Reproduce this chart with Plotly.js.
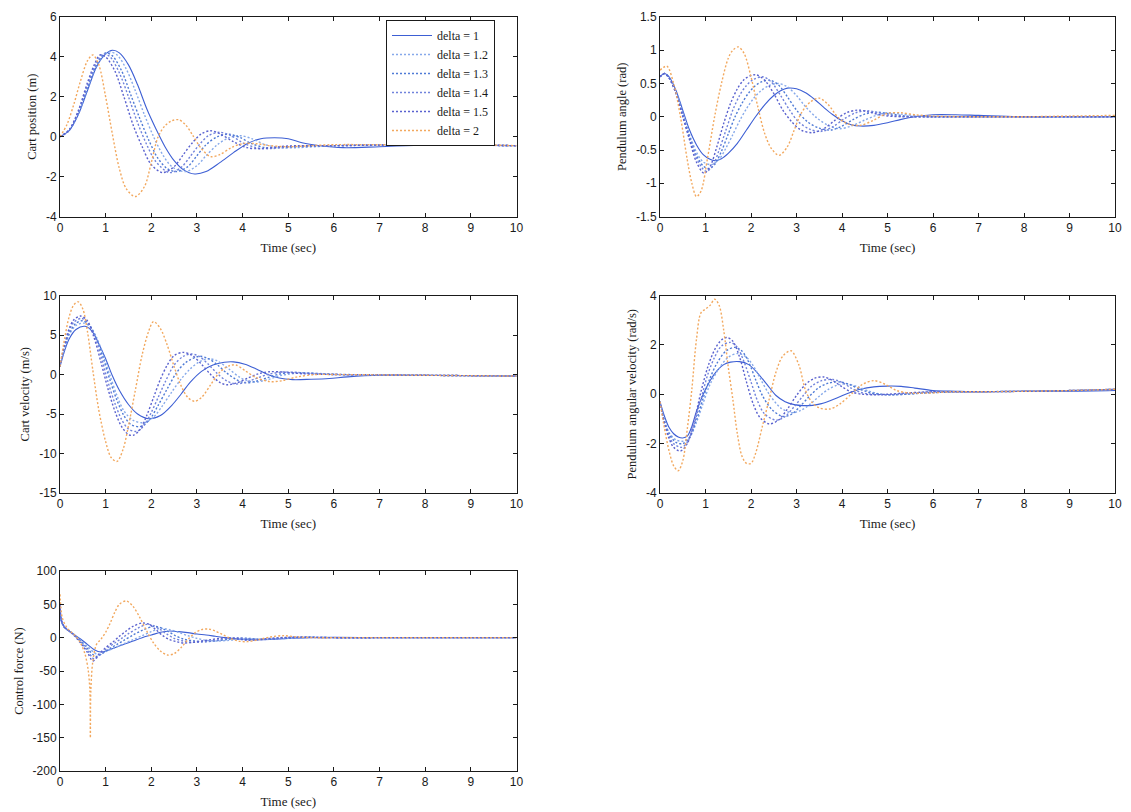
<!DOCTYPE html>
<html><head><meta charset="utf-8">
<script src="https://cdn.plot.ly/plotly-3.0.1.min.js"></script>
<style>html,body{margin:0;padding:0;background:#fff}#chart{width:1131px;height:812px}</style>
</head><body><div id="chart"></div>
<script>
const seriesNames = ['delta = 1', 'delta = 1.2', 'delta = 1.3', 'delta = 1.4', 'delta = 1.5', 'delta = 2'];

// ---------- Cart position (m) ----------
const posT_1  = [0,0.2,0.4,0.6,0.8,1.0,1.15,1.3,1.5,1.7,1.9,2.1,2.3,2.5,2.7,2.95,3.2,3.5,3.8,4.1,4.4,4.7,5.0,5.3,5.7,6.2,7,8,9,10];
const posY_1  = [0,0.3,1.1,2.3,3.5,4.15,4.33,4.2,3.6,2.6,1.4,0.4,-0.5,-1.2,-1.65,-1.87,-1.75,-1.3,-0.8,-0.35,-0.1,-0.05,-0.1,-0.3,-0.45,-0.55,-0.5,-0.42,-0.42,-0.45];
const posT_12 = [0,0.2,0.4,0.6,0.8,1.0,1.1,1.25,1.45,1.65,1.85,2.05,2.25,2.45,2.75,3.0,3.2,3.45,3.7,3.95,4.2,4.5,4.8,5.2,5.6,6,7,8,9,10];
const posY_12 = [0,0.31,1.15,2.4,3.55,4.15,4.25,4.1,3.4,2.3,1.1,0.0,-0.9,-1.5,-1.75,-1.45,-0.95,-0.4,-0.05,0.05,-0.1,-0.4,-0.55,-0.55,-0.5,-0.45,-0.42,-0.4,-0.42,-0.45];
const posT_13 = [0,0.2,0.4,0.6,0.8,1.0,1.15,1.35,1.55,1.75,1.95,2.15,2.35,2.55,2.8,3.0,3.2,3.45,3.7,3.95,4.2,4.5,4.8,5.2,6,7,8,9,10];
const posY_13 = [0,0.32,1.2,2.45,3.6,4.2,4.05,3.3,2.1,0.9,-0.2,-1.1,-1.6,-1.75,-1.5,-0.95,-0.4,0.0,0.12,-0.05,-0.35,-0.55,-0.55,-0.5,-0.45,-0.42,-0.4,-0.42,-0.45];
const posT_14 = [0,0.2,0.4,0.6,0.8,0.95,1.1,1.3,1.5,1.7,1.9,2.1,2.4,2.65,2.85,3.05,3.25,3.5,3.75,4.0,4.3,4.6,5.0,5.5,6,7,8,9,10];
const posY_14 = [0,0.33,1.25,2.55,3.7,4.15,4.0,3.2,2.0,0.7,-0.4,-1.25,-1.8,-1.55,-1.0,-0.4,0.05,0.22,0.05,-0.3,-0.55,-0.6,-0.5,-0.45,-0.45,-0.42,-0.4,-0.42,-0.45];
const posT_15 = [0,0.2,0.4,0.6,0.75,0.88,1.0,1.2,1.4,1.6,1.8,2.0,2.25,2.5,2.7,2.9,3.1,3.3,3.5,3.8,4.1,4.4,4.8,5.2,6,7,8,9,10];
const posY_15 = [0,0.35,1.3,2.7,3.6,4.1,4.0,3.3,2.0,0.6,-0.5,-1.4,-1.8,-1.5,-0.9,-0.3,0.15,0.3,0.15,-0.25,-0.55,-0.6,-0.5,-0.45,-0.45,-0.42,-0.4,-0.42,-0.45];
const posT_2  = [0,0.15,0.3,0.45,0.6,0.72,0.85,1.0,1.15,1.3,1.45,1.65,1.85,2.0,2.15,2.3,2.45,2.6,2.75,2.9,3.1,3.3,3.5,3.75,4.0,4.3,4.6,5.0,5.5,6,7,8,9,10];
const posY_2  = [0,0.6,1.6,2.8,3.8,4.1,3.6,2.0,0.1,-1.6,-2.6,-3.0,-2.5,-1.3,0.0,0.55,0.8,0.85,0.6,0.1,-0.6,-1.0,-0.9,-0.55,-0.35,-0.35,-0.45,-0.5,-0.45,-0.4,-0.4,-0.4,-0.4,-0.45];

// ---------- Pendulum angle (rad) ----------
const angT_1  = [0,0.1,0.2,0.35,0.5,0.65,0.8,0.95,1.1,1.2,1.35,1.5,1.7,1.9,2.1,2.3,2.5,2.65,2.8,3.0,3.2,3.4,3.6,3.8,4.0,4.2,4.4,4.7,5.0,5.3,5.6,6,6.5,7,8,9,10];
const angY_1  = [0.6,0.65,0.6,0.4,0.1,-0.2,-0.42,-0.57,-0.64,-0.66,-0.63,-0.55,-0.4,-0.2,0.0,0.18,0.32,0.39,0.43,0.42,0.36,0.26,0.14,0.03,-0.06,-0.12,-0.14,-0.13,-0.09,-0.04,0.0,0.03,0.03,0.02,0.0,0.0,0.0];
const angT_12 = [0,0.1,0.2,0.35,0.5,0.65,0.8,0.95,1.13,1.3,1.45,1.6,1.75,1.9,2.05,2.2,2.4,2.6,2.8,3.0,3.2,3.45,3.7,3.95,4.2,4.5,4.75,5.0,5.3,5.7,6,7,8,9,10];
const angY_12 = [0.6,0.65,0.59,0.38,0.06,-0.27,-0.53,-0.68,-0.72,-0.64,-0.47,-0.27,-0.06,0.12,0.27,0.38,0.47,0.5,0.45,0.32,0.15,-0.02,-0.13,-0.18,-0.14,-0.05,0.02,0.06,0.04,0.01,0.0,0.0,0.0,0.0,0.0];
const angT_13 = [0,0.1,0.2,0.35,0.5,0.65,0.8,0.95,1.07,1.2,1.35,1.5,1.65,1.8,1.95,2.1,2.25,2.42,2.6,2.8,3.0,3.25,3.5,3.75,4.0,4.25,4.5,4.75,5.0,5.4,6,7,8,9,10];
const angY_13 = [0.6,0.65,0.59,0.37,0.04,-0.3,-0.58,-0.74,-0.78,-0.72,-0.52,-0.26,0.0,0.2,0.36,0.47,0.53,0.55,0.48,0.3,0.1,-0.08,-0.17,-0.2,-0.14,-0.04,0.04,0.07,0.05,0.01,0.0,0.0,0.0,0.0,0.0];
const angT_14 = [0,0.1,0.2,0.35,0.5,0.65,0.8,0.95,1.02,1.15,1.3,1.45,1.6,1.75,1.9,2.05,2.27,2.45,2.65,2.85,3.05,3.3,3.55,3.8,4.05,4.3,4.55,4.8,5.1,5.5,6,7,8,9,10];
const angY_14 = [0.6,0.65,0.58,0.36,0.02,-0.33,-0.62,-0.79,-0.82,-0.75,-0.5,-0.2,0.1,0.32,0.47,0.56,0.6,0.52,0.32,0.1,-0.08,-0.19,-0.22,-0.15,-0.03,0.06,0.09,0.06,0.02,0.0,0.0,0.0,0.0,0.0,0.0];
const angT_15 = [0,0.1,0.2,0.35,0.5,0.65,0.8,0.97,1.1,1.25,1.4,1.55,1.7,1.85,2.0,2.12,2.3,2.5,2.7,2.9,3.1,3.35,3.6,3.85,4.1,4.35,4.6,4.9,5.3,6,7,8,9,10];
const angY_15 = [0.6,0.65,0.58,0.35,0.0,-0.35,-0.68,-0.85,-0.75,-0.45,-0.1,0.2,0.42,0.56,0.62,0.63,0.55,0.35,0.1,-0.08,-0.2,-0.24,-0.18,-0.05,0.06,0.1,0.07,0.02,0.0,0.0,0.0,0.0,0.0,0.0];
const angT_2  = [0,0.15,0.3,0.45,0.6,0.7,0.8,0.9,1.05,1.2,1.35,1.5,1.6,1.72,1.85,2.0,2.15,2.3,2.45,2.62,2.8,2.95,3.1,3.3,3.5,3.7,3.9,4.1,4.4,4.7,5.0,5.3,5.6,6,7,8,9,10];
const angY_2  = [0.7,0.76,0.5,0.0,-0.65,-1.0,-1.2,-1.12,-0.6,0.0,0.5,0.88,1.0,1.05,0.95,0.6,0.15,-0.25,-0.48,-0.58,-0.45,-0.2,0.05,0.22,0.28,0.18,0.0,-0.1,-0.13,-0.05,0.05,0.06,0.03,0.01,0.0,0.0,0.01,0.02];

// ---------- Cart velocity (m/s) ----------
const velT_1  = [0,0.1,0.2,0.35,0.55,0.7,0.85,1.0,1.15,1.3,1.5,1.7,1.95,2.2,2.45,2.65,2.85,3.1,3.35,3.6,3.8,4.05,4.3,4.55,4.8,5.1,5.5,5.9,6.3,7,8,9,10];
const velY_1  = [1,3,4.5,5.7,6.1,5.5,3.9,2.0,-0.2,-2.0,-3.8,-5.0,-5.6,-5.2,-3.9,-2.5,-1.0,0.4,1.2,1.55,1.6,1.3,0.7,0.0,-0.45,-0.65,-0.6,-0.5,-0.3,-0.1,-0.1,-0.15,-0.2];
const velT_12 = [0,0.1,0.2,0.35,0.52,0.65,0.8,0.95,1.1,1.25,1.4,1.6,1.85,2.05,2.25,2.45,2.65,2.85,3.05,3.25,3.45,3.7,3.95,4.15,4.3,4.55,4.85,5.3,5.8,6.3,7,8,9,10];
const velY_12 = [1,3.2,5.0,6.2,6.5,6.1,4.7,2.4,-0.2,-2.7,-4.6,-5.8,-6.1,-5.4,-3.9,-2.2,-0.6,0.7,1.6,2.0,1.7,0.7,-0.4,-0.85,-0.95,-0.65,-0.1,0.2,0.1,0.0,-0.05,-0.1,-0.15,-0.2];
const velT_13 = [0,0.1,0.2,0.35,0.5,0.65,0.8,0.95,1.1,1.25,1.4,1.55,1.75,1.95,2.15,2.35,2.55,2.75,3.05,3.25,3.45,3.65,3.85,4.05,4.3,4.55,4.8,5.1,5.5,6,7,8,9,10];
const velY_13 = [1,3.4,5.2,6.5,6.8,6.2,4.5,2.0,-0.8,-3.3,-5.2,-6.3,-6.6,-5.8,-3.9,-1.8,0.2,1.5,2.3,2.0,1.2,0.2,-0.6,-1.05,-0.85,-0.4,0.05,0.25,0.15,0.0,-0.05,-0.1,-0.15,-0.2];
const velT_14 = [0,0.1,0.2,0.3,0.47,0.6,0.75,0.9,1.05,1.2,1.35,1.5,1.68,1.85,2.0,2.15,2.3,2.5,2.7,2.87,3.05,3.25,3.45,3.65,3.85,4.05,4.3,4.55,4.85,5.2,5.6,6,7,8,9,10];
const velY_14 = [1,3.6,5.5,6.6,7.1,6.6,5.0,2.3,-0.9,-3.6,-5.7,-6.9,-7.2,-6.4,-4.8,-2.9,-1.0,1.2,2.3,2.6,2.3,1.3,0.1,-0.8,-1.2,-1.0,-0.5,0.0,0.3,0.25,0.1,0.0,-0.05,-0.1,-0.15,-0.2];
const velT_15 = [0,0.1,0.2,0.3,0.45,0.6,0.75,0.9,1.05,1.2,1.35,1.5,1.6,1.75,1.9,2.05,2.2,2.35,2.5,2.7,2.9,3.1,3.3,3.5,3.65,3.85,4.1,4.35,4.6,4.9,5.3,6,7,8,9,10];
const velY_15 = [1,3.8,5.8,6.9,7.4,6.8,4.6,1.5,-1.8,-4.6,-6.6,-7.6,-7.7,-7.0,-5.2,-2.9,-0.6,1.2,2.4,2.8,2.4,1.3,0.0,-1.0,-1.3,-1.1,-0.5,0.1,0.35,0.3,0.1,0.0,-0.05,-0.1,-0.15,-0.2];
const velT_2  = [0,0.1,0.2,0.3,0.4,0.5,0.6,0.72,0.85,1.0,1.12,1.25,1.38,1.5,1.65,1.8,1.95,2.05,2.2,2.35,2.5,2.65,2.8,2.95,3.1,3.3,3.5,3.7,3.85,4.05,4.3,4.6,4.85,5.2,5.6,6,7,8,9,10];
const velY_2  = [1,4.5,7.3,8.8,9.2,8.3,5.5,0.5,-4.5,-8.5,-10.5,-11.0,-9.5,-6.5,-2.0,2.5,5.6,6.7,5.8,3.7,1.0,-1.4,-2.9,-3.4,-2.9,-1.3,0.3,1.1,1.2,0.5,-0.4,-0.9,-0.8,-0.3,0.0,0.0,-0.05,-0.1,-0.15,-0.2];

// ---------- Pendulum angular velocity (rad/s) ----------
const angvT_1  = [0,0.1,0.2,0.3,0.4,0.5,0.6,0.7,0.8,0.95,1.1,1.25,1.4,1.55,1.75,1.95,2.15,2.35,2.55,2.75,2.95,3.15,3.35,3.55,3.75,3.95,4.15,4.4,4.7,5.0,5.3,5.6,6,6.5,7,8,9,10];
const angvY_1  = [-0.3,-0.9,-1.35,-1.6,-1.73,-1.77,-1.7,-1.3,-0.7,0.0,0.55,0.95,1.2,1.3,1.32,1.2,0.85,0.4,-0.05,-0.3,-0.42,-0.46,-0.45,-0.38,-0.25,-0.1,0.05,0.2,0.3,0.33,0.32,0.25,0.15,0.12,0.1,0.12,0.12,0.15];
const angvT_12 = [0,0.1,0.2,0.35,0.52,0.65,0.8,0.95,1.1,1.3,1.5,1.72,1.9,2.05,2.2,2.4,2.65,2.9,3.1,3.3,3.5,3.7,3.9,4.1,4.35,4.6,4.85,5.1,5.4,5.8,6.2,7,8,9,10];
const angvY_12 = [-0.3,-1.05,-1.55,-1.85,-1.9,-1.75,-1.15,-0.35,0.4,1.05,1.5,1.65,1.5,1.15,0.65,0.0,-0.55,-0.75,-0.65,-0.4,-0.08,0.2,0.37,0.42,0.3,0.12,0.0,-0.02,0.0,0.05,0.08,0.1,0.12,0.15,0.2];
const angvT_13 = [0,0.1,0.2,0.35,0.5,0.65,0.8,0.95,1.1,1.25,1.45,1.65,1.8,1.95,2.1,2.25,2.45,2.7,2.9,3.1,3.3,3.5,3.7,3.95,4.15,4.4,4.6,4.85,5.1,5.4,5.8,6.2,7,8,9,10];
const angvY_13 = [-0.3,-1.1,-1.6,-1.95,-2.0,-1.75,-1.05,-0.15,0.65,1.25,1.75,1.9,1.75,1.3,0.6,-0.05,-0.6,-0.9,-0.8,-0.45,-0.05,0.28,0.45,0.5,0.4,0.2,0.07,0.0,-0.02,0.0,0.05,0.08,0.1,0.12,0.15,0.2];
const angvT_14 = [0,0.1,0.2,0.3,0.47,0.6,0.75,0.9,1.05,1.2,1.35,1.55,1.7,1.85,2.0,2.15,2.3,2.55,2.75,2.95,3.15,3.35,3.55,3.8,4.0,4.2,4.4,4.65,4.9,5.2,5.6,6,7,8,9,10];
const angvY_14 = [-0.3,-1.15,-1.7,-2.0,-2.15,-1.95,-1.2,-0.2,0.8,1.5,1.95,2.1,1.9,1.3,0.5,-0.3,-0.8,-1.05,-0.9,-0.5,-0.05,0.35,0.55,0.6,0.48,0.25,0.08,0.0,-0.02,0.0,0.05,0.1,0.1,0.12,0.15,0.2];
const angvT_15 = [0,0.1,0.2,0.3,0.45,0.6,0.75,0.9,1.05,1.2,1.35,1.47,1.6,1.75,1.9,2.05,2.2,2.4,2.6,2.8,3.0,3.2,3.4,3.6,3.8,4.0,4.2,4.45,4.7,5.0,5.4,6,7,8,9,10];
const angvY_15 = [-0.3,-1.2,-1.8,-2.15,-2.3,-2.0,-1.1,0.1,1.1,1.8,2.2,2.3,2.15,1.5,0.5,-0.4,-0.95,-1.2,-1.05,-0.6,-0.05,0.4,0.65,0.7,0.55,0.3,0.1,0.0,-0.02,0.0,0.05,0.1,0.1,0.12,0.15,0.2];
const angvT_2  = [0,0.1,0.2,0.3,0.4,0.5,0.6,0.7,0.8,0.9,1.0,1.1,1.2,1.3,1.4,1.5,1.6,1.7,1.8,1.9,2.0,2.1,2.25,2.4,2.55,2.7,2.88,3.05,3.2,3.35,3.5,3.73,3.95,4.2,4.45,4.7,4.95,5.2,5.5,5.9,6.4,7,8,9,10];
const angvY_2  = [-0.3,-1.4,-2.3,-2.9,-3.1,-2.7,-1.4,0.2,2.2,3.3,3.45,3.6,3.85,3.6,2.6,1.1,-0.2,-1.6,-2.5,-2.8,-2.8,-2.4,-1.3,-0.2,0.9,1.55,1.76,1.2,0.15,-0.35,-0.55,-0.6,-0.4,0.0,0.4,0.55,0.4,0.15,0.05,0.05,0.1,0.1,0.12,0.15,0.2];

// ---------- Control force (N) ----------
const frcT_1  = [0,0.03,0.1,0.2,0.3,0.45,0.6,0.75,0.9,1.05,1.2,1.4,1.6,1.8,2.0,2.2,2.4,2.6,2.8,3.0,3.2,3.4,3.6,3.8,4.0,4.3,4.6,5.0,5.5,6,7,8,9,10];
const frcY_1  = [45,25,15,10,5,-2,-10,-18,-21.5,-19,-15,-10,-5,0,4,8,10,9,7.5,5.5,4,2,0,-1.5,-2.5,-3,-2.5,-1,0,0.5,0,0,0,0];
const frcT_12 = [0,0.03,0.1,0.2,0.3,0.45,0.6,0.82,1.0,1.2,1.4,1.6,1.8,2.0,2.2,2.4,2.6,2.8,3.0,3.2,3.45,3.7,3.95,4.2,4.45,4.7,5.0,5.4,6,7,8,9,10];
const frcY_12 = [45,25,15,10,5,-4,-13,-25,-21,-15,-9,-3,3,9,14,12,8,3,-1,-4,-5,-4,-2.5,-2,-2.5,-2,-1,0.5,0,0,0,0,0];
const frcT_13 = [0,0.03,0.1,0.2,0.3,0.45,0.6,0.78,0.92,1.1,1.25,1.4,1.6,1.8,2.05,2.2,2.35,2.5,2.7,2.95,3.2,3.45,3.7,3.9,4.1,4.3,4.5,4.8,5.2,5.6,6,7,8,9,10];
const frcY_13 = [46,25,15,10,5,-5,-16,-28,-24,-16,-10,-4,4,11,17,15,10,4,-2,-5,-6,-4.5,-2.5,-1,-1,-2,-2.5,-1,0.5,0.5,0,0,0,0,0];
const frcT_14 = [0,0.03,0.1,0.2,0.3,0.45,0.6,0.75,0.9,1.05,1.2,1.35,1.5,1.7,1.9,2.05,2.2,2.35,2.5,2.7,2.9,3.1,3.3,3.5,3.7,3.9,4.1,4.3,4.55,4.8,5.2,5.6,6,7,8,9,10];
const frcY_14 = [48,26,15.5,10,4.5,-6,-19,-32,-24,-15,-8,-1,6,14,20,18,12,5,-1,-5,-7,-6.5,-5,-3,-1,0,-1.5,-3,-2.5,-1,0.5,0.5,0,0,0,0,0];
const frcT_15 = [0,0.03,0.1,0.2,0.3,0.45,0.6,0.72,0.85,1.0,1.15,1.3,1.45,1.6,1.8,1.95,2.1,2.25,2.4,2.55,2.7,2.9,3.1,3.3,3.5,3.7,3.9,4.1,4.35,4.6,5.0,5.5,6,7,8,9,10];
const frcY_15 = [50,27,16,10,4,-8,-22,-35,-25,-15,-7,2,10,17,22,20,12,3,-3,-6,-8,-7,-5,-3,-1,0,-2,-4,-3,-1,0.5,0.5,0,0,0,0,0];
const frcT_2  = [0,0.05,0.15,0.25,0.35,0.45,0.55,0.62,0.655,0.665,0.675,0.72,0.8,0.9,1.0,1.1,1.2,1.3,1.45,1.6,1.75,1.9,2.05,2.2,2.35,2.5,2.65,2.8,2.95,3.1,3.25,3.4,3.55,3.7,3.9,4.1,4.35,4.6,4.9,5.2,5.6,6,7,8,9,10];
const frcY_2  = [65,30,15,8,2,-8,-25,-50,-80,-150,-80,-35,-10,-2,8,22,38,50,55,47,30,10,-8,-20,-26,-24,-15,-3,7,12,13,10,5,0,-5,-6,-3,1,3,1,0,0,0,0,0,0];

// ---------- axes settings ----------
const xTicks = [0,1,2,3,4,5,6,7,8,9,10];
const posTicks  = [-4,-2,0,2,4,6];
const angTicks  = [-1.5,-1,-0.5,0,0.5,1,1.5];
const velTicks  = [-15,-10,-5,0,5,10];
const angvTicks = [-4,-2,0,2,4];
const frcTicks  = [-200,-150,-100,-50,0,50,100];

const yTitles = ['Cart position (m)','Pendulum angle (rad)','Cart velocity (m/s)','Pendulum angular velocity (rad/s)','Control force (N)'];
const xTitle = 'Time (sec)';

const colors = ['#3d5fd4','#86a9ea','#4f7bd6','#7183dc','#5a62cf','#f2a85e'];
const dashes = ['solid','2px,2px','2px,2px','2px,2px','2px,2px','2px,2px'];

const panels = [
  {T:[posT_1,posT_12,posT_13,posT_14,posT_15,posT_2], Y:[posY_1,posY_12,posY_13,posY_14,posY_15,posY_2], ticks:posTicks, range:[-4,6]},
  {T:[angT_1,angT_12,angT_13,angT_14,angT_15,angT_2], Y:[angY_1,angY_12,angY_13,angY_14,angY_15,angY_2], ticks:angTicks, range:[-1.5,1.5]},
  {T:[velT_1,velT_12,velT_13,velT_14,velT_15,velT_2], Y:[velY_1,velY_12,velY_13,velY_14,velY_15,velY_2], ticks:velTicks, range:[-15,10]},
  {T:[angvT_1,angvT_12,angvT_13,angvT_14,angvT_15,angvT_2], Y:[angvY_1,angvY_12,angvY_13,angvY_14,angvY_15,angvY_2], ticks:angvTicks, range:[-4,4]},
  {T:[frcT_1,frcT_12,frcT_13,frcT_14,frcT_15,frcT_2], Y:[frcY_1,frcY_12,frcY_13,frcY_14,frcY_15,frcY_2], ticks:frcTicks, range:[-200,100]}
];

const W = 1131, H = 812;
const xDomL = [60/W, 516.5/W], xDomR = [660/W, 1115/W];
const yDom = [[1-216.5/H, 1-17/H], [1-493/H, 1-295.5/H], [1-771/H, 1-571/H]];
const xDoms = [xDomL, xDomR, xDomL, xDomR, xDomL];
const yDoms = [yDom[0], yDom[0], yDom[1], yDom[1], yDom[2]];

const traces = [];
panels.forEach((p, pi) => {
  for (let s = 0; s < 6; s++) {
    traces.push({
      x: p.T[s], y: p.Y[s], type: 'scatter', mode: 'lines',
      xaxis: 'x' + (pi + 1), yaxis: 'y' + (pi + 1),
      name: seriesNames[s], legendgroup: seriesNames[s], showlegend: pi === 0,
      line: {color: colors[s], width: s === 0 ? 1.1 : 1.4, dash: dashes[s], shape: 'spline', smoothing: 0.9},
      hoverinfo: 'skip'
    });
  }
});

const axCommon = {
  showline: true, linecolor: '#1a1a1a', linewidth: 1, mirror: 'ticks',
  ticks: 'inside', ticklen: 4, tickwidth: 1, tickcolor: '#1a1a1a',
  showgrid: false, zeroline: false, automargin: false,
  tickfont: {family: 'Liberation Sans, Arial, sans-serif', size: 12, color: '#1a1a1a'}
};
const layout = {
  width: W, height: H, margin: {l: 0, r: 0, t: 0, b: 0},
  paper_bgcolor: '#ffffff', plot_bgcolor: '#ffffff',
  showlegend: true,
  legend: {
    x: 386/W, y: 1-20/H, xanchor: 'left', yanchor: 'top',
    bgcolor: '#ffffff', bordercolor: '#1a1a1a', borderwidth: 1,
    font: {family: 'Liberation Serif, Times New Roman, serif', size: 12, color: '#1a1a1a'},
    itemwidth: 40, tracegroupgap: 0
  }
};
panels.forEach((p, pi) => {
  const k = pi + 1;
  layout['xaxis' + k] = Object.assign({}, axCommon, {
    domain: xDoms[pi], anchor: 'y' + k, range: [0, 10],
    tickmode: 'array', tickvals: xTicks, ticktext: xTicks.map(String),
    title: {text: xTitle, standoff: 8, font: {family: 'Liberation Serif, Times New Roman, serif', size: 13, color: '#1a1a1a'}}
  });
  layout['yaxis' + k] = Object.assign({}, axCommon, {
    domain: yDoms[pi], anchor: 'x' + k, range: p.range,
    tickmode: 'array', tickvals: p.ticks, ticktext: p.ticks.map(String),
    title: {text: yTitles[pi], standoff: 6, font: {family: 'Liberation Serif, Times New Roman, serif', size: 12.5, color: '#1a1a1a'}}
  });
});

Plotly.newPlot('chart', traces, layout, {staticPlot: true});
</script></body></html>
